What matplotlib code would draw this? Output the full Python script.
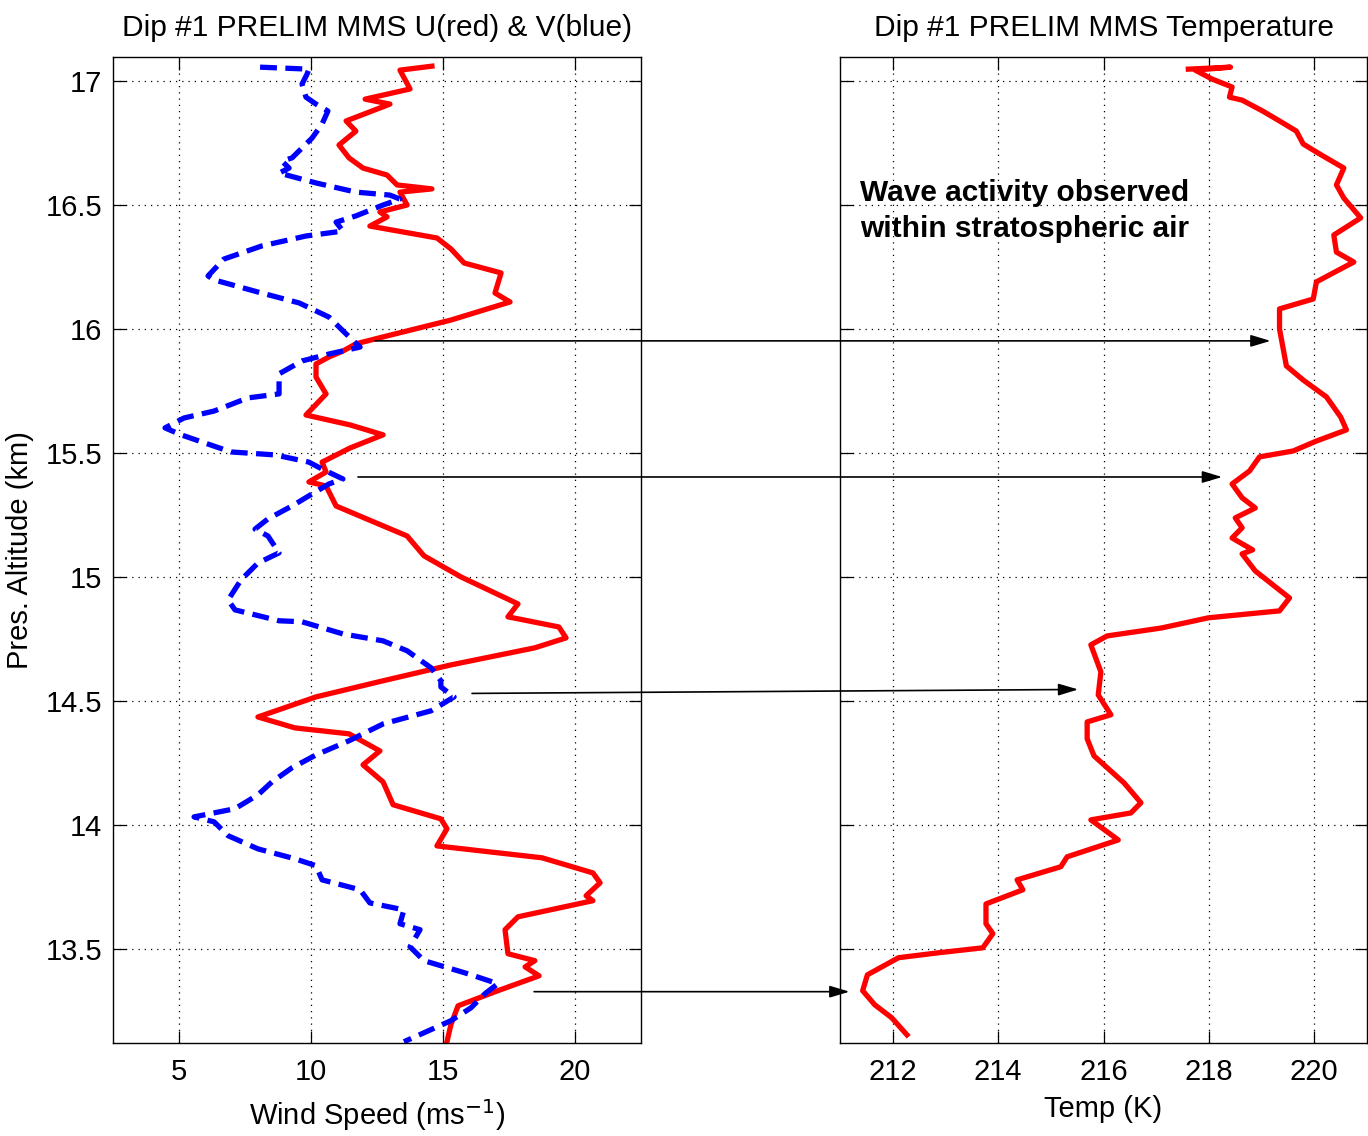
import matplotlib
matplotlib.use("Agg")
import matplotlib.pyplot as plt
from matplotlib.patches import ConnectionPatch

plt.rcParams["font.family"] = ["Liberation Sans", "DejaVu Sans"]
plt.rcParams["font.size"] = 21

# =========================
# data (altitude in km)
# =========================
u_speed = [14.58, 13.37, 13.75, 12.05, 12.99, 11.33, 11.70, 11.06, 11.44, 11.97,
           12.88, 13.26, 14.58, 13.37, 13.64, 12.61, 12.88, 12.23, 14.77, 15.30,
           15.80, 17.20, 16.97, 17.54, 15.30, 12.73, 11.70, 11.21, 10.68, 10.19,
           10.19, 10.57, 9.81, 11.48, 12.73, 11.48, 10.42, 10.57, 9.92, 10.57,
           10.95, 12.46, 13.64, 14.28, 15.68, 17.84, 17.46, 19.39, 19.66, 18.48,
           15.30, 12.73, 10.19, 7.99, 9.39, 11.44, 12.61, 11.97, 12.73, 13.11,
           14.92, 15.15, 14.77, 18.75, 20.68, 20.95, 20.42, 20.68, 17.84, 17.35,
           17.46, 18.48, 18.11, 18.64, 17.08, 15.57, 15.30, 15.15]
u_alt = [17.060, 17.044, 16.968, 16.927, 16.907, 16.839, 16.798, 16.742, 16.690, 16.649,
         16.621, 16.581, 16.565, 16.552, 16.500, 16.472, 16.452, 16.415, 16.367, 16.323,
         16.266, 16.226, 16.145, 16.109, 16.036, 15.968, 15.940, 15.911, 15.887, 15.859,
         15.806, 15.738, 15.653, 15.613, 15.573, 15.520, 15.463, 15.423, 15.383, 15.367,
         15.286, 15.218, 15.165, 15.085, 15.000, 14.891, 14.839, 14.798, 14.754, 14.714,
         14.645, 14.581, 14.516, 14.435, 14.391, 14.367, 14.298, 14.242, 14.173, 14.081,
         14.024, 13.984, 13.915, 13.867, 13.806, 13.766, 13.714, 13.694, 13.629, 13.577,
         13.480, 13.452, 13.427, 13.391, 13.331, 13.270, 13.194, 13.125]

v_speed = [8.07, 9.92, 9.85, 9.66, 9.81, 10.19, 10.64, 10.42, 10.04, 9.66,
           9.28, 8.90, 9.17, 8.79, 10.19, 11.70, 12.99, 13.37, 12.73, 11.70,
           10.95, 11.21, 9.81, 8.14, 6.70, 6.10, 6.33, 7.99, 9.55, 10.68,
           11.33, 11.86, 10.68, 9.66, 8.79, 8.79, 7.61, 6.33, 5.19, 4.47,
           5.08, 6.97, 8.64, 9.92, 10.42, 11.21, 10.68, 9.92, 9.28, 8.37,
           7.88, 8.37, 8.79, 7.99, 7.35, 6.86, 7.12, 8.79, 9.66, 11.21,
           12.73, 13.64, 14.55, 14.92, 14.92, 15.42, 14.55, 12.73, 11.44, 10.19,
           9.28, 8.52, 7.99, 7.12, 5.57, 6.33, 6.86, 7.99, 9.39, 10.19,
           10.42, 11.86, 12.23, 13.52, 13.37, 14.13, 13.75, 14.28, 15.95, 17.08,
           16.59, 16.06, 15.30, 13.52]
v_alt = [17.056, 17.048, 17.028, 16.988, 16.935, 16.907, 16.879, 16.827, 16.770, 16.730,
         16.690, 16.677, 16.649, 16.629, 16.589, 16.552, 16.540, 16.524, 16.500, 16.456,
         16.431, 16.395, 16.375, 16.335, 16.282, 16.214, 16.198, 16.149, 16.105, 16.048,
         15.980, 15.927, 15.899, 15.871, 15.819, 15.738, 15.722, 15.669, 15.641, 15.601,
         15.573, 15.504, 15.492, 15.463, 15.435, 15.395, 15.375, 15.327, 15.286, 15.234,
         15.193, 15.165, 15.097, 15.056, 14.988, 14.907, 14.867, 14.823, 14.819, 14.770,
         14.742, 14.702, 14.633, 14.581, 14.556, 14.516, 14.460, 14.407, 14.339, 14.282,
         14.230, 14.173, 14.121, 14.065, 14.032, 14.012, 13.956, 13.903, 13.863, 13.835,
         13.778, 13.738, 13.685, 13.657, 13.601, 13.577, 13.508, 13.452, 13.399, 13.359,
         13.319, 13.262, 13.210, 13.125]

temp = [217.61, 218.41, 217.74, 218.06, 218.44, 218.39, 218.63, 219.02, 219.34, 219.66,
        219.79, 220.10, 220.56, 220.42, 220.56, 220.88, 220.37, 220.42, 220.75, 220.50,
        220.04, 219.98, 219.34, 219.34, 219.40, 219.47, 219.79, 220.23, 220.50, 220.61,
        220.04, 219.60, 218.96, 218.77, 218.44, 218.63, 218.88, 218.50, 218.63, 218.44,
        218.83, 218.63, 218.88, 219.53, 219.34, 217.99, 217.10, 216.07, 215.76, 215.95,
        215.90, 216.14, 215.69, 215.69, 215.82, 216.39, 216.71, 216.52, 215.76, 216.28,
        215.31, 215.19, 214.36, 214.47, 213.77, 213.77, 213.90, 213.71, 212.87, 212.11,
        211.52, 211.43, 211.66, 211.98, 212.27]
t_alt = [17.048, 17.056, 17.044, 17.008, 16.976, 16.935, 16.923, 16.879, 16.839, 16.798,
         16.746, 16.706, 16.649, 16.581, 16.528, 16.448, 16.379, 16.310, 16.270, 16.242,
         16.190, 16.121, 16.081, 16.000, 15.931, 15.851, 15.794, 15.726, 15.645, 15.593,
         15.548, 15.508, 15.484, 15.427, 15.375, 15.319, 15.278, 15.238, 15.198, 15.157,
         15.109, 15.093, 15.024, 14.915, 14.863, 14.835, 14.794, 14.762, 14.726, 14.617,
         14.524, 14.444, 14.415, 14.347, 14.278, 14.169, 14.089, 14.048, 14.020, 13.939,
         13.871, 13.831, 13.778, 13.738, 13.681, 13.601, 13.561, 13.504, 13.484, 13.464,
         13.395, 13.331, 13.274, 13.222, 13.153]

# arrows: (wind speed, altitude) start -> (temperature, altitude) tip
arrow_from = [(12.42, 15.952), (11.78, 15.403), (16.10, 14.530), (18.45, 13.327)]
arrow_to = [(219.17, 15.952), (218.25, 15.403), (215.52, 14.546), (211.18, 13.327)]

wind_ticks = [5, 10, 15, 20]
temp_ticks = [212, 214, 216, 218, 220]
alt_ticks = [13.5, 14, 14.5, 15, 15.5, 16, 16.5, 17]
alt_labels = ["13.5", "14", "14.5", "15", "15.5", "16", "16.5", "17"]

# =========================
# figure
# =========================
W, H = 1368, 1136
fig = plt.figure(figsize=(W / 100, H / 100), dpi=100)
ax1 = fig.add_axes([113 / W, 93 / H, 528 / W, 986 / H])
ax2 = fig.add_axes([840 / W, 93 / H, 527 / W, 986 / H])

ax1.plot(u_speed, u_alt, color="red", lw=3.8, solid_joinstyle="round")
ax1.plot(v_speed, v_alt, color="blue", lw=3.8, linestyle=(0, (3.2, 1.6)))
ax2.plot(temp, t_alt, color="red", lw=3.8, solid_joinstyle="round")

ax1.set_xlim(2.5, 22.5)
ax2.set_xlim(211, 221)
for ax in (ax1, ax2):
    ax.set_ylim(13.12, 17.097)
    ax.set_yticks(alt_ticks)
    ax.grid(True, linestyle=(0, (1, 4)), color="black", lw=0.9)
    ax.tick_params(direction="in", length=9, width=0.9, top=True, right=True,
                   labelsize=21, pad=8)
    ax.tick_params(axis="x", pad=11)
    for sp in ax.spines.values():
        sp.set_linewidth(1.0)

ax1.set_xticks(wind_ticks)
ax1.set_yticklabels(alt_labels)
ax2.set_xticks(temp_ticks)
ax2.set_yticklabels([])

ax1.set_title("Dip #1 PRELIM MMS U(red) & V(blue)", fontsize=21.5, pad=15)
ax2.set_title("Dip #1 PRELIM MMS Temperature", fontsize=21.5, pad=15)
ax1.set_xlabel("Wind Speed (ms$^{-1}$)", fontsize=21, labelpad=8)
ax2.set_xlabel("Temp (K)", fontsize=21, labelpad=6)
ax1.set_ylabel("Pres. Altitude (km)", fontsize=21, labelpad=8)

ax2.text(211.38, 16.516, "Wave activity observed", fontsize=21.5,
         fontweight="bold", va="baseline")
ax2.text(211.38, 16.371, "within stratospheric air", fontsize=21.5,
         fontweight="bold", va="baseline")

for (u, z0), (t, z1) in zip(arrow_from, arrow_to):
    con = ConnectionPatch(xyA=(u, z0), coordsA=ax1.transData,
                          xyB=(t, z1), coordsB=ax2.transData,
                          arrowstyle="-|>,head_length=1.2,head_width=0.36",
                          mutation_scale=10, color="black", lw=1.2)
    fig.add_artist(con)

fig.savefig("out.png", dpi=100)
